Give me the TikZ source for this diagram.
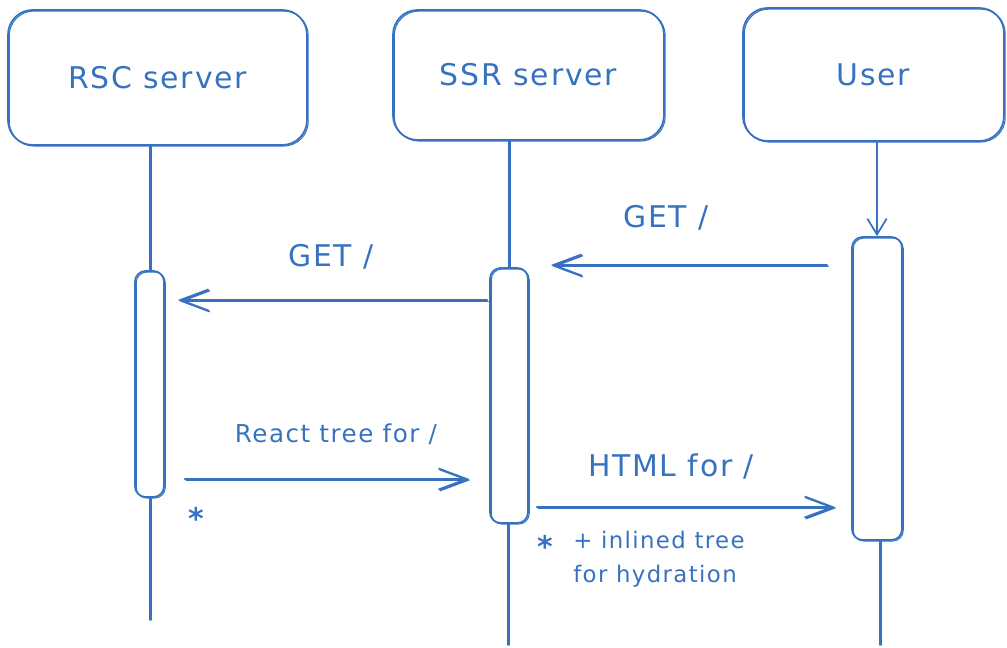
\documentclass[tikz,border=0pt]{standalone}
\usepackage{fontspec}
\setmainfont{DejaVu Sans}[LetterSpace=6]
\usetikzlibrary{arrows.meta}
\definecolor{ink}{RGB}{55,114,192}
\tikzset{
  inkline/.style={draw=ink, line width=1pt, line cap=round, line join=round},
  sk/.style={inkline, postaction={draw=ink, line width=0.6pt, transform canvas={shift={(0.7pt,-0.6pt)}}}},
  actor/.style={sk, rounded corners=14pt, text=ink, font=\fontsize{17}{20}\selectfont},
  actbar/.style={sk, rounded corners=6pt, inner sep=0pt},
  lifeline/.style={draw=ink, line width=1pt, line cap=round, postaction={draw=ink, line width=0.7pt, transform canvas={shift={(0.9pt,0pt)}}}},
  msg/.style={sk, -{Straight Barb[length=16pt,width=12pt,line width=1pt]}},
  downmsg/.style={inkline, -{Straight Barb[length=9pt,width=11pt,line width=1pt]}},
  lbl/.style={text=ink, font=\fontsize{17}{20}\selectfont, inner sep=0pt},
  slbl/.style={text=ink, font=\fontsize{14}{17}\selectfont, inner sep=0pt},
  nlbl/.style={text=ink, font=\fontsize{13}{19}\selectfont, inner sep=0pt, align=left},
}
\begin{document}
\begin{tikzpicture}[x=0.02cm, y=-0.02cm]
\useasboundingbox (0,0) rectangle (1007,648);
% actors
\node[actor, minimum width=5.98cm, minimum height=2.7cm] (rsc) at (157.5,77.5) {RSC server};
\node[actor, minimum width=5.42cm, minimum height=2.6cm] (ssr) at (528.5,75) {SSR server};
\node[actor, minimum width=5.22cm, minimum height=2.66cm] (user) at (873.5,74.5) {User};
% activation bars
\node[actbar, minimum width=0.58cm, minimum height=4.52cm] (rscact) at (149.5,384) {};
\node[actbar, minimum width=0.76cm, minimum height=5.1cm] (ssract) at (509,395.5) {};
\node[actbar, minimum width=1.0cm, minimum height=6.06cm] (useract) at (877,388.5) {};
% lifeline ends
\coordinate (rscend) at (150,620);
\coordinate (ssrend) at (508,645);
\coordinate (userend) at (880,645);
% lifelines
\draw[lifeline] (rsc.south -| rscact.north) -- (rscact.north);
\draw[lifeline] (rscact.south -| rscend) -- (rscend);
\draw[lifeline] (ssr.south -| ssract.north) -- (ssract.north);
\draw[lifeline] (ssract.south -| ssrend) -- (ssrend);
\draw[downmsg] (user.south -| useract.north) -- (useract.north);
\draw[lifeline] (useract.south -| userend) -- (userend);
% messages
\draw[msg, shorten <=0.48cm, shorten >=0.44cm] (useract.west |- 0,265) -- (ssract.east |- 0,265);
\draw[msg, shorten <=0.04cm, shorten >=0.26cm] (ssract.west |- 0,300) -- (rscact.east |- 0,300);
\draw[msg, shorten <=0.4cm, shorten >=0.4cm] (rscact.east |- 0,479) -- (ssract.west |- 0,479);
\draw[msg, shorten <=0.16cm, shorten >=0.32cm] (ssract.east |- 0,507) -- (useract.west |- 0,507);
% labels
\node[lbl] (l1) at (666,218) {GET /};
\node[lbl] (l2) at (331,257) {GET /};
\node[slbl] (l3) at (336,434) {React tree for /};
\node[lbl] (l4) at (671,467) {HTML for /};
\node[lbl, font=\fontsize{17}{20}\selectfont\bfseries] (ast1) at (196,518) {*};
\node[lbl, font=\fontsize{17}{20}\selectfont\bfseries] (ast2) at (545,546) {*};
\node[nlbl, anchor=north west] (l5) at (573,531) {+ inlined tree\\for hydration};
\end{tikzpicture}
\end{document}
